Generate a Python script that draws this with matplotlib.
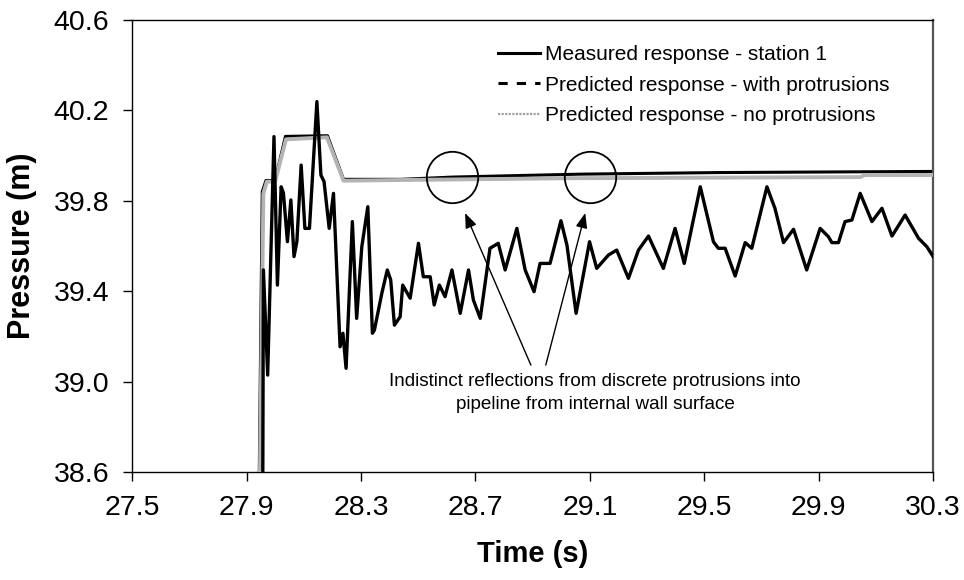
import numpy as np
import matplotlib
matplotlib.use("Agg")
import matplotlib.pyplot as plt
from matplotlib.lines import Line2D

plt.rcParams['font.family'] = ['Liberation Sans', 'DejaVu Sans']

# -------------------
# Data
# -------------------
measured_t = [27.957, 27.957, 27.959, 27.974, 27.996, 28.008, 28.021, 28.029, 28.043, 28.055,
              28.066, 28.076, 28.091, 28.104, 28.120, 28.146, 28.160, 28.171, 28.189, 28.204,
              28.227, 28.237, 28.248, 28.270, 28.285, 28.303, 28.324, 28.340, 28.347, 28.373,
              28.392, 28.404, 28.417, 28.437, 28.446, 28.472, 28.501, 28.518, 28.542, 28.556,
              28.574, 28.594, 28.618, 28.647, 28.676, 28.693, 28.717, 28.751, 28.780, 28.804,
              28.845, 28.874, 28.905, 28.926, 28.961, 28.999, 29.020, 29.052, 29.099, 29.124,
              29.165, 29.194, 29.235, 29.270, 29.305, 29.357, 29.398, 29.430, 29.486, 29.532,
              29.549, 29.573, 29.608, 29.643, 29.666, 29.719, 29.747, 29.777, 29.812, 29.858,
              29.905, 29.934, 29.946, 29.969, 29.992, 30.016, 30.045, 30.086, 30.121, 30.156,
              30.202, 30.249, 30.278, 30.300]
measured_p = [38.40, 38.60, 39.494, 39.029, 40.084, 39.427, 39.862, 39.835, 39.619, 39.804,
              39.553, 39.619, 39.958, 39.678, 39.678, 40.239, 39.914, 39.885, 39.678, 39.833,
              39.154, 39.214, 39.059, 39.708, 39.280, 39.597, 39.774, 39.214, 39.228, 39.391,
              39.494, 39.450, 39.250, 39.287, 39.427, 39.369, 39.612, 39.464, 39.464, 39.339,
              39.427, 39.376, 39.494, 39.302, 39.494, 39.361, 39.280, 39.590, 39.612, 39.494,
              39.678, 39.494, 39.398, 39.523, 39.523, 39.712, 39.604, 39.302, 39.619, 39.501,
              39.560, 39.582, 39.457, 39.582, 39.644, 39.501, 39.678, 39.523, 39.862, 39.619,
              39.590, 39.590, 39.467, 39.615, 39.590, 39.862, 39.767, 39.615, 39.674, 39.494,
              39.678, 39.641, 39.615, 39.615, 39.708, 39.715, 39.833, 39.708, 39.767, 39.644,
              39.737, 39.634, 39.597, 39.553]

with_prot_t = [27.943, 27.955, 27.968, 28.000, 28.036, 28.183, 28.239, 28.440, 28.620,
               28.860, 29.070, 29.550, 29.990, 30.300]
with_prot_p = [38.40, 39.840, 39.890, 39.890, 40.085, 40.088, 39.895, 39.895, 39.905,
               39.912, 39.918, 39.925, 39.928, 39.930]

no_prot_t = [27.945, 27.959, 27.971, 28.000, 28.038, 28.181, 28.239, 28.437, 29.031,
             30.045, 30.062, 30.300]
no_prot_p = [38.40, 39.833, 39.885, 39.885, 40.072, 40.081, 39.889, 39.892, 39.900,
             39.905, 39.914, 39.914]

circle_t = [28.619, 29.101]
circle_p = [39.905, 39.905]

arrow_head_t = [28.664, 29.084]
arrow_tail_t = [28.894, 28.946]
arrow_head_p = 39.746
arrow_tail_p = 39.073

x_ticks = [27.5, 27.9, 28.3, 28.7, 29.1, 29.5, 29.9, 30.3]
y_ticks = [38.6, 39.0, 39.4, 39.8, 40.2, 40.6]

labels = ['Measured response - station 1',
          'Predicted response - with protrusions',
          'Predicted response - no protrusions']
note = 'Indistinct reflections from discrete protrusions into\npipeline from internal wall surface'

# -------------------
# Plot
# -------------------
fig = plt.figure(figsize=(9.64, 5.8), dpi=100)
ax = fig.add_axes([0.137, 0.1862, 0.831, 0.7793])

# dashes are so dense in the original that the line reads as solid
ax.plot(with_prot_t, with_prot_p, color='black', lw=2.2, zorder=2)
ax.plot(no_prot_t, no_prot_p, color='#b4b4b4', lw=2.8, zorder=3)
ax.plot(measured_t, measured_p, color='black', lw=2.4, zorder=4)

# circles around the reflections
ax.plot(circle_t, circle_p, 'o', ms=37, mfc='none', mec='black', mew=1.3, zorder=5)

# annotation with two arrows
for ht, tt in zip(arrow_head_t, arrow_tail_t):
    ax.annotate('', xy=(ht, arrow_head_p), xytext=(tt, arrow_tail_p),
                arrowprops=dict(arrowstyle='-|>,head_length=0.9,head_width=0.35',
                                color='black', lw=1.0, shrinkA=0, shrinkB=0))
ax.text(29.118, 38.95, note, ha='center', va='center', fontsize=13.6, linespacing=1.45)

ax.set_xlim(27.5, 30.3)
ax.set_ylim(38.6, 40.6)
ax.set_xticks(x_ticks)
ax.set_yticks(y_ticks)
ax.set_xticklabels([f'{v:.1f}' for v in x_ticks])
ax.set_yticklabels([f'{v:.1f}' for v in y_ticks])
ax.tick_params(direction='out', length=6.5, width=1, labelsize=20.5, pad=10)
ax.set_xlabel('Time (s)', fontsize=21, fontweight='bold', labelpad=14)
ax.set_ylabel('Pressure (m)', fontsize=22, fontweight='bold', labelpad=12)

for s in ['left', 'bottom', 'top']:
    ax.spines[s].set_linewidth(1.0)
    ax.spines[s].set_color('black')
ax.spines['right'].set_linewidth(1.6)
ax.spines['right'].set_color('#555555')

handles = [Line2D([], [], color='black', lw=2.2),
           Line2D([], [], color='black', lw=2.2, dashes=(3, 3)),
           Line2D([], [], color='#a0a0a0', lw=1.6, dashes=(1, 0.6))]
ax.legend(handles, labels, loc='upper left', bbox_to_anchor=(0.4466, 0.963), frameon=False,
          fontsize=15, handlelength=2.0, handletextpad=0.25, labelspacing=0.56,
          borderaxespad=0)

fig.savefig('out.png', dpi=100)
